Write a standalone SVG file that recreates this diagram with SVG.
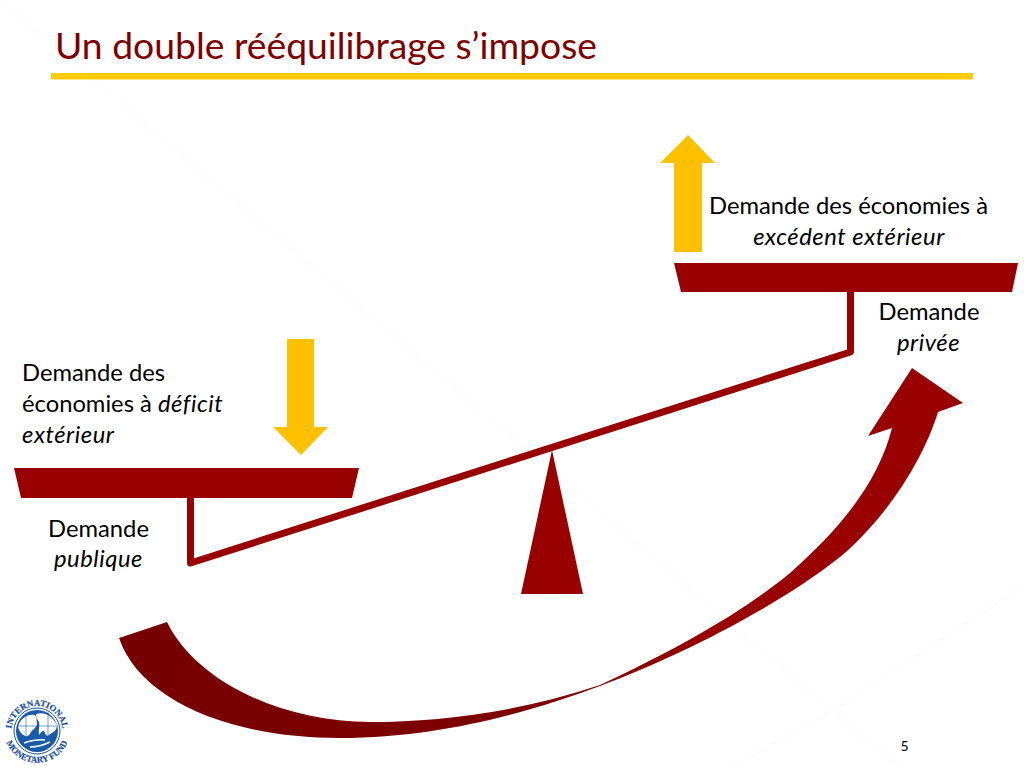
<svg xmlns="http://www.w3.org/2000/svg" xmlns:xlink="http://www.w3.org/1999/xlink" width="1024" height="768" viewBox="0 0 1024 768">
<style>
.t{font-family:"Lato","Noto Sans",sans-serif;font-size:23.75px;fill:#000}
.i{font-style:italic;letter-spacing:.55px}
.m{text-anchor:middle}
.beam{fill:#990000}
.gold{fill:#FFC000}
.faint{stroke:#f9f9f9;stroke-width:1;fill:none}
.logo{font-family:"Liberation Serif",serif;font-weight:bold;font-size:8.800px;fill:#1a4f9c;stroke:#1a4f9c;stroke-width:.2}
</style>
<defs>
<linearGradient id="g" gradientUnits="userSpaceOnUse" x1="120" y1="0" x2="960" y2="0"><stop offset="0" stop-color="#760000"/><stop offset="0.55" stop-color="#7f0000"/><stop offset="0.7" stop-color="#990000"/><stop offset="1" stop-color="#990000"/></linearGradient>
<path id="ringTop" d="M13 740A25.500 25.500 0 1 1 61 740"/>
<path id="ringBot" d="M4.500 724A33 33 0 1 0 69.500 724"/>
</defs>
<rect width="1024" height="768" fill="#fff"/>
<g id="background"><path class="faint" d="M0 0L900 768"/><path class="faint" d="M1024 585L850 700L730 768"/></g>
<g id="title">
<text x="55" y="59" font-family="Lato,'Noto Sans',sans-serif" font-size="37.300" fill="#7f0000">Un double rééquilibrage s’impose</text>
<rect x="51" y="73" width="922" height="6.500" fill="#FFCC0A"/>
</g>
<g id="connectors">
<path d="M190.500 498V563L850.500 352V292" fill="none" stroke="#990000" stroke-width="7" stroke-linejoin="round"/>
</g>
<g id="fulcrum"><polygon class="beam" points="552,450 583,594 521,594"/></g>
<g id="beam-right"><polygon class="beam" points="674,263 1018,263 1012,292 681,292"/></g>
<g id="beam-left"><polygon class="beam" points="14,468 359,468 352,498 21,498"/></g>
<g id="arrow-up"><polygon class="gold" points="688,135 715,163 702,163 702,252 674,252 674,163 660,163"/></g>
<g id="arrow-down"><polygon class="gold" points="287,339 314,339 314,427 328,427 301,455 273,427 287,427"/></g>
<g id="curved-arrow"><path fill="url(#g)" d="M119 638C140 700 230 738 340 738C440 738 530 712 600 686C670 660 770 612 840 557C890 515 925 455 938 412L963 403L912 368L868 436L892 428C880 475 850 520 790 573C745 610 685 645 600 685C520 712 440 722 370 722C280 722 195 680 167 622Z"/></g>
<g id="label-surplus">
<text class="t m" x="848.500" y="214">Demande des économies à</text>
<text class="t i m" x="849" y="245">excédent extérieur</text>
</g>
<g id="label-private">
<text class="t m" x="929" y="320">Demande</text>
<text class="t i m" x="928.500" y="351">privée</text>
</g>
<g id="label-deficit">
<text class="t" x="22" y="381">Demande des</text>
<text class="t" x="22" y="412">économies à <tspan class="i">déficit</tspan></text>
<text class="t i" x="22" y="443">extérieur</text>
</g>
<g id="label-public">
<text class="t m" x="98.500" y="537">Demande</text>
<text class="t i m" x="98.500" y="567">publique</text>
</g>
<g id="logo">
<circle cx="37" cy="731" r="23" fill="#fff" stroke="#1a4f9c" stroke-width="1"/>
<circle cx="37" cy="731" r="21" fill="#1a5aa6"/>
<path fill="#fff" d="M18 727C20 719 27 714 34 715C38 716 36 720 37 723C37 728 33 729 31 732C29 736 27 737 25 736C21 734 19 731 18 727Z"/>
<path fill="#fff" d="M36 714C44 711 53 716 57 725C57 730 54 732 50 734C48 737 46 736 45 733C44 729 41 732 39 735C38 730 40 726 39 722C37 719 36 717 36 714Z"/>
<path fill="none" stroke="#1a5aa6" stroke-width=".6" d="M26 714V738M48 712V738M17 726H58"/>
<path fill="none" stroke="#fff" stroke-width="1.600" d="M24 743Q36 739 45 740M30 747Q40 747 50 742"/>
<text class="logo"><textPath xlink:href="#ringTop" href="#ringTop" startOffset="50%" text-anchor="middle">INTERNATIONAL</textPath></text>
<text class="logo"><textPath xlink:href="#ringBot" href="#ringBot" startOffset="50%" text-anchor="middle">MONETARY FUND</textPath></text>
</g>
<g id="page-number"><text x="904.500" y="751" font-family="Lato,'Noto Sans',sans-serif" font-size="14" fill="#000" text-anchor="middle">5</text></g>
</svg>
